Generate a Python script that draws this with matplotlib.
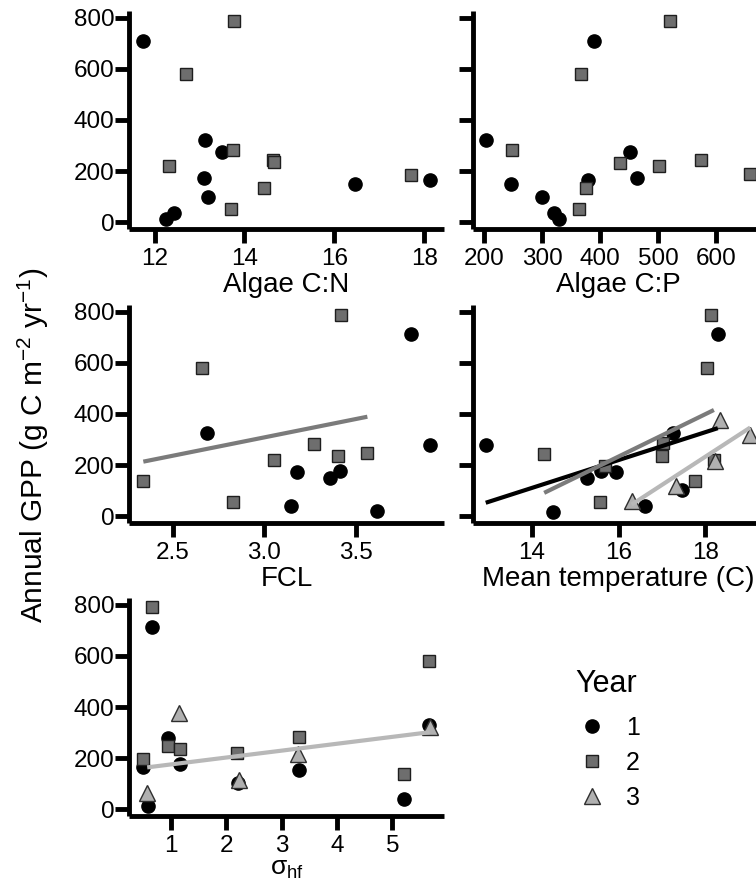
import numpy as np
import matplotlib
matplotlib.use("Agg")
import matplotlib.pyplot as plt
from matplotlib.lines import Line2D

plt.rcParams['font.family'] = ['Liberation Sans', 'DejaVu Sans']
plt.rcParams['mathtext.fontset'] = 'custom'
plt.rcParams['mathtext.rm'] = 'Liberation Sans'
plt.rcParams['mathtext.it'] = 'Liberation Sans:italic'
plt.rcParams['mathtext.sf'] = 'Liberation Sans'

# ---- data: annual GPP against each predictor, by year ----
cn_x1 = [11.75, 13.12, 13.49, 13.10, 18.12, 16.46, 13.18, 12.43, 12.25]
cn_y1 = [710, 320, 273, 172, 167, 148, 100, 38, 12]
cn_x2 = [13.76, 12.70, 13.74, 12.32, 14.64, 14.66, 14.44, 13.70, 17.70]
cn_y2 = [785, 578, 281, 219, 242, 235, 133, 53, 186]

cp_x1 = [389, 203, 451, 464, 380, 246, 300, 320, 329]
cp_y1 = [710, 320, 273, 172, 167, 148, 100, 38, 12]
cp_x2 = [521, 367, 248, 435, 502, 574, 659, 375, 364]
cp_y2 = [785, 578, 281, 232, 219, 242, 188, 133, 53]

fcl_x1 = [3.805, 2.688, 3.905, 3.181, 3.414, 3.358, 3.144, 3.619]
fcl_y1 = [712, 325, 277, 172, 178, 150, 39, 20]
fcl_x2 = [3.422, 2.657, 3.272, 3.053, 3.405, 3.564, 2.338, 2.828]
fcl_y2 = [787, 581, 284, 221, 234, 247, 137, 55]

temp_x1 = [12.93, 14.48, 15.27, 15.60, 15.95, 16.60, 17.25, 17.47, 18.29]
temp_y1 = [277, 17, 150, 176, 172, 39, 325, 104, 712]
temp_x2 = [18.14, 18.03, 14.28, 15.56, 15.69, 17.02, 16.99, 17.76, 18.20]
temp_y2 = [787, 579, 245, 55, 195, 286, 234, 137, 221]
temp_x3 = [16.30, 17.33, 18.35, 19.04, 18.23]
temp_y3 = [59, 117, 375, 316, 215]

sig_x1 = [0.67, 0.96, 1.17, 0.51, 0.59, 2.22, 3.31, 5.21, 5.66]
sig_y1 = [711, 280, 179, 164, 13, 103, 153, 39, 329]
sig_x2 = [0.67, 0.51, 0.95, 1.17, 2.20, 3.31, 5.21, 5.66]
sig_y2 = [789, 195, 247, 234, 222, 284, 137, 581]
sig_x3 = [1.15, 0.58, 2.23, 3.30, 5.67]
sig_y3 = [375, 62, 116, 218, 320]

years = ['1', '2', '3']
y_ticks = [0, 200, 400, 600, 800]

# ---- styling per year ----
STYLE = {
    '1': dict(marker='o', ms=9.5, mfc='#000000', mec='#000000', mew=1.0),
    '2': dict(marker='s', ms=8.3, mfc='#6e6e6e', mec='#1e1e1e', mew=1.0),
    '3': dict(marker='^', ms=11.0, mfc='#b0b0b0', mec='#2e2e2e', mew=1.0),
}
FIT_COLOR = {'1': '#000000', '2': '#7b7b7b', '3': '#b8b8b8'}

W, H = 756, 882
fig = plt.figure(figsize=(W / 100, H / 100), dpi=100)


def px_axes(left, top, width, height):
    return fig.add_axes([left / W, 1 - (top + height) / H, width / W, height / H])


def expanded(vals, frac=0.05):
    lo, hi = min(vals), max(vals)
    pad = (hi - lo) * frac
    return lo - pad, hi + pad


def panel(ax, series, fits, xlabel, xticks, xticklabels, show_ylabels,
          labelpad=1, labelsize=20):
    all_x = []
    for yr, xs, ys in series:
        ax.plot(xs, ys, linestyle='none', **STYLE[yr], zorder=3)
        all_x += list(xs)
    for yr, xs, ys in series:
        if yr in fits:
            k, b = np.polyfit(xs, ys, 1)
            xx = np.array([min(xs), max(xs)])
            ax.plot(xx, k * xx + b, color=FIT_COLOR[yr], lw=3.0,
                    solid_capstyle='butt', zorder=4)
    ax.set_xlim(*expanded(all_x))
    ax.set_ylim(-26, 826)
    ax.set_xticks(xticks)
    ax.set_xticklabels(xticklabels)
    ax.set_yticks(y_ticks)
    if not show_ylabels:
        ax.set_yticklabels([])
    for s in ('top', 'right'):
        ax.spines[s].set_visible(False)
    for s in ('left', 'bottom'):
        ax.spines[s].set_linewidth(3.5)
        ax.spines[s].set_capstyle('butt')
    ax.tick_params(axis='both', direction='out', length=10, width=3.5,
                   labelsize=17.5, colors='black')
    ax.tick_params(axis='y', pad=0.5)
    ax.tick_params(axis='x', pad=4)
    ax.set_xlabel(xlabel, fontsize=labelsize, labelpad=labelpad)
    ax.patch.set_alpha(0)


LEFT_X, LEFT_W = 129, 315
RIGHT_X, RIGHT_W = 472.5, 291
ROW_TOPS = [11, 305, 598]
ROW_H = 218

ax1 = px_axes(LEFT_X, ROW_TOPS[0], LEFT_W, ROW_H)
panel(ax1, [('1', cn_x1, cn_y1), ('2', cn_x2, cn_y2)], [],
      'Algae C:N', [12, 14, 16, 18], ['12', '14', '16', '18'], True)

ax2 = px_axes(RIGHT_X, ROW_TOPS[0], RIGHT_W, ROW_H)
panel(ax2, [('1', cp_x1, cp_y1), ('2', cp_x2, cp_y2)], [],
      'Algae C:P', [200, 300, 400, 500, 600],
      ['200', '300', '400', '500', '600'], False)

ax3 = px_axes(LEFT_X, ROW_TOPS[1], LEFT_W, ROW_H)
panel(ax3, [('1', fcl_x1, fcl_y1), ('2', fcl_x2, fcl_y2)], ['2'],
      'FCL', [2.5, 3.0, 3.5], ['2.5', '3.0', '3.5'], True)

ax4 = px_axes(RIGHT_X, ROW_TOPS[1], RIGHT_W, ROW_H)
panel(ax4, [('1', temp_x1, temp_y1), ('2', temp_x2, temp_y2),
            ('3', temp_x3, temp_y3)], ['1', '2', '3'],
      'Mean temperature (C)', [14, 16, 18], ['14', '16', '18'], False)

ax5 = px_axes(LEFT_X, ROW_TOPS[2], LEFT_W, ROW_H)
panel(ax5, [('1', sig_x1, sig_y1), ('2', sig_x2, sig_y2),
            ('3', sig_x3, sig_y3)], ['3'],
      'σ$_{\\mathrm{hf}}$', [1, 2, 3, 4, 5],
      ['1', '2', '3', '4', '5'], True, labelpad=-0.5, labelsize=19)

fig.text(33 / W, 1 - 445 / H,
         r'Annual GPP (g C m$^{-2}$ yr$^{-1}$)',
         rotation=90, ha='center', va='center', fontsize=21.5)

# legend: title as its own text, entries below it
fig.text(575 / W, 1 - 692 / H, 'Year', fontsize=22, va='baseline', ha='left')
handles = [Line2D([], [], linestyle='none', **STYLE[y]) for y in years]
fig.legend(handles, years, loc='upper left',
           bbox_to_anchor=(577 / W, 1 - 716 / H), frameon=False,
           fontsize=18, handlelength=1.2, handletextpad=0.76,
           labelspacing=0.44, borderpad=0, borderaxespad=0)

fig.savefig('out.png', dpi=100)
